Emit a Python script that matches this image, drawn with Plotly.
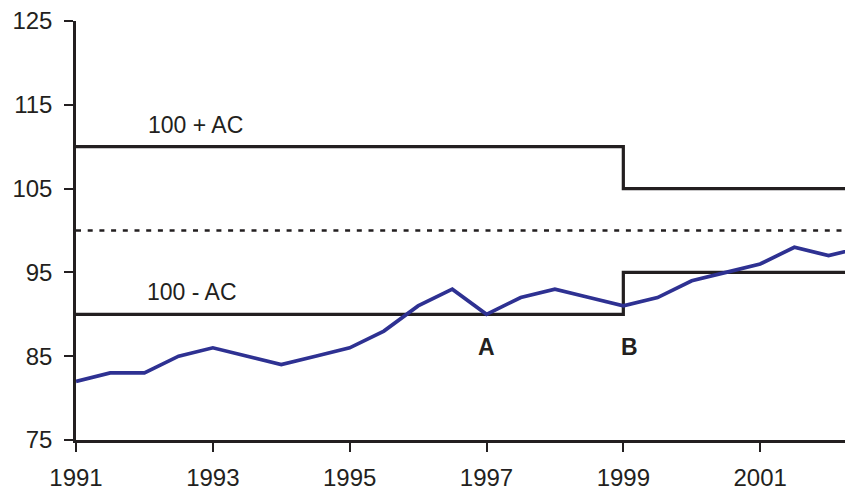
import plotly.graph_objects as go

years = [1991, 1991.5, 1992, 1992.5, 1993, 1993.5, 1994, 1994.5, 1995, 1995.5,
         1996, 1996.5, 1997, 1997.5, 1998, 1998.5, 1999, 1999.5, 2000, 2000.5,
         2001, 2001.5, 2002, 2002.5]
index_values = [82, 83, 83, 85, 86, 85, 84, 85, 86, 88,
                91, 93, 90, 92, 93, 92, 91, 92, 94, 95,
                96, 98, 97, 98]

band_x = [1991, 1999, 1999, 2002.5]
upper_band = [110, 110, 105, 105]
lower_band = [90, 90, 95, 95]
target_x = [1991, 2002.5]
target = [100, 100]

x_ticks = [1991, 1993, 1995, 1997, 1999, 2001]
y_ticks = [75, 85, 95, 105, 115, 125]

FONT = "Liberation Sans, Arial, sans-serif"
INK = "#231f20"

fig = go.Figure()
fig.add_trace(go.Scatter(x=target_x, y=target, mode="lines",
                         line=dict(color=INK, width=2.6, dash="5px,6.7px"),
                         hoverinfo="skip"))
fig.add_trace(go.Scatter(x=band_x, y=upper_band, mode="lines",
                         line=dict(color=INK, width=3.2),
                         hoverinfo="skip"))
fig.add_trace(go.Scatter(x=band_x, y=lower_band, mode="lines",
                         line=dict(color=INK, width=3.2),
                         hoverinfo="skip"))
fig.add_trace(go.Scatter(x=years, y=index_values, mode="lines",
                         line=dict(color="#2e3192", width=3.7)))

annots = [
    dict(x=1992.75, y=112.6, text="100 + AC", bold=False),
    dict(x=1992.69, y=92.66, text="100 - AC", bold=False),
    dict(x=1997.0, y=86.13, text="A", bold=True),
    dict(x=1999.09, y=86.13, text="B", bold=True),
]
for a in annots:
    fig.add_annotation(x=a["x"], y=a["y"],
                       text=("<b>%s</b>" % a["text"]) if a["bold"] else a["text"],
                       showarrow=False, xanchor="center", yanchor="middle",
                       font=dict(family=FONT, size=23, color=INK))

# page body has an 8px margin; compensate so the plot lands where the reference has it
fig.update_layout(
    width=837, height=483,
    margin=dict(l=68, r=0, t=13, b=51),
    paper_bgcolor="white", plot_bgcolor="white",
    showlegend=False,
    font=dict(family=FONT, size=24, color=INK),
)
fig.update_xaxes(range=[1991, 2002.24], tickvals=x_ticks, ticktext=[str(t) for t in x_ticks],
                 automargin=False, ticklabeloverflow="allow",
                 showgrid=False, zeroline=False, showline=True, linecolor=INK, linewidth=2.5,
                 ticks="outside", ticklen=9, tickwidth=2, tickcolor=INK,
                 ticklabelstandoff=5,
                 tickfont=dict(family=FONT, size=24, color=INK))
fig.update_yaxes(range=[75, 125], tickvals=y_ticks,
                 automargin=False, ticklabeloverflow="allow",
                 showgrid=False, zeroline=False, showline=True, linecolor=INK, linewidth=2.5,
                 ticks="outside", ticklen=9, tickwidth=2, tickcolor=INK,
                 ticklabelstandoff=7,
                 tickfont=dict(family=FONT, size=24, color=INK))

fig.write_html("out.html")
